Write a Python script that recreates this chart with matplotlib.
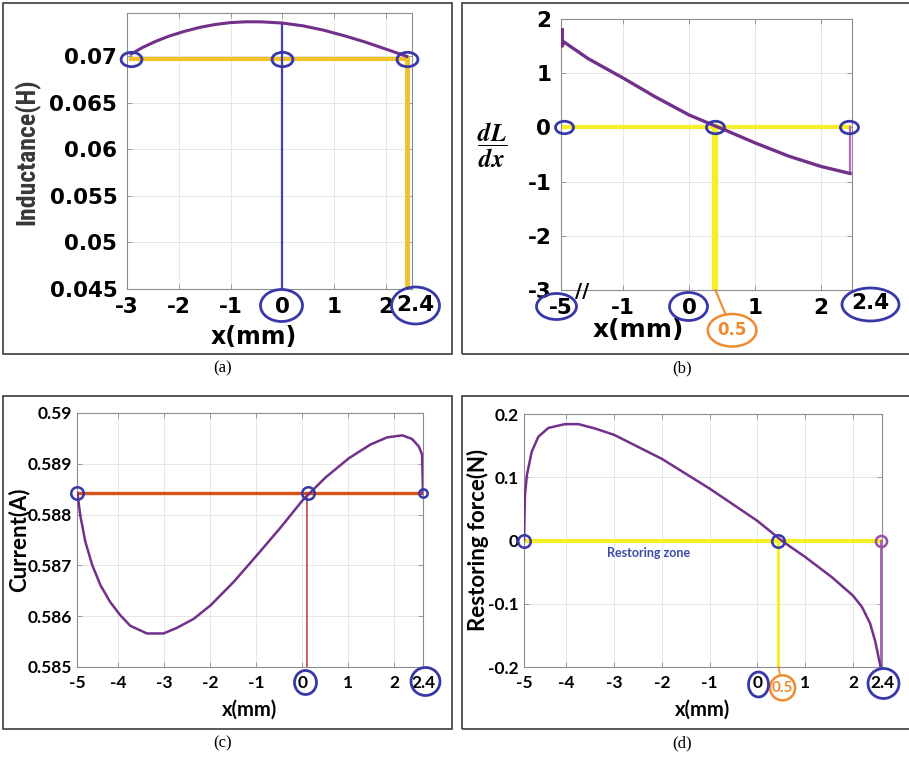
import matplotlib.pyplot as plt
from matplotlib.lines import Line2D
from matplotlib.patches import Rectangle
from matplotlib.path import Path
from matplotlib.transforms import Affine2D

plt.rcParams['mathtext.fontset'] = 'stix'

W, H = 909, 758

# (a) inductance vs displacement
a_x = [-2.92, -2.7, -2.45, -2.2, -1.9, -1.6, -1.3, -1.0, -0.7, -0.4, 0.0,
       0.4, 0.8, 1.2, 1.6, 2.0, 2.4]
a_L = [0.0702, 0.0709, 0.07155, 0.0721, 0.07262, 0.07305, 0.07337, 0.07357,
       0.07366, 0.07365, 0.07352, 0.07322, 0.07275, 0.07215, 0.07148, 0.07072,
       0.06995]
a_level = 0.0697
a_marks = [-2.92, 0.0, 2.4]

# (b) dL/dx (left part of the axis is broken, "-5" sits at the left edge)
b_x = [-1.92, -1.92, -1.9, -1.53, -0.99, -0.52, 0.0, 0.39, 0.55, 0.99, 1.51,
       2.0, 2.44]
b_d = [1.80, 1.50, 1.58, 1.27, 0.905, 0.57, 0.23, 0.03, -0.05, -0.28, -0.53,
       -0.72, -0.85]
b_marks = [-1.9, 0.4, 2.42]
b_cross = 0.4

# (c) current
c_x = [-4.89, -4.83, -4.72, -4.57, -4.39, -4.18, -3.96, -3.74, -3.38, -3.02,
       -2.73, -2.36, -1.99, -1.49, -0.99, -0.48, 0.01, 0.5, 1.01, 1.48, 1.84,
       2.17, 2.38, 2.53, 2.6, 2.62]
c_i = [0.58842, 0.58799, 0.58747, 0.58701, 0.58661, 0.58628, 0.58602, 0.58581,
       0.58566, 0.58566, 0.58577, 0.58595, 0.58622, 0.58668, 0.5872, 0.58774,
       0.58829, 0.58873, 0.58911, 0.58938, 0.58952, 0.58956, 0.58949, 0.58934,
       0.58918, 0.58842]
c_level = 0.58842
c_marks = [-4.9, 0.13, 2.61]
c_cross = 0.1

# (d) restoring force
d_x = [-4.89, -4.87, -4.83, -4.73, -4.59, -4.38, -4.03, -3.75, -3.4, -3.0,
       -2.0, -1.0, 0.0, 0.54, 1.0, 1.56, 2.0, 2.19, 2.36, 2.47, 2.58]
d_f = [0.0005, 0.072, 0.103, 0.14, 0.164, 0.178, 0.184, 0.184, 0.177, 0.167,
       0.129, 0.082, 0.031, -0.002, -0.026, -0.058, -0.087, -0.105, -0.131,
       -0.16, -0.2]
d_marks = [-4.89, 0.44, 2.58]
d_cross = 0.44

purple = '#72308a'
ring_blue = '#3838a8'
orange = '#f08a30'

fig = plt.figure(figsize=(W / 100, H / 100), dpi=100)


def px_axes(l, t, r, b):
    return fig.add_axes([l / W, 1 - b / H, (r - l) / W, (b - t) / H])


def dress(ax, xt, xl, yt, yl, font, size, xpad, ypad):
    kw = dict(fontfamily=font, fontweight='bold', fontsize=size)
    ax.set_xticks(xt, xl, **kw)
    ax.set_yticks(yt, yl, **kw)
    ax.tick_params(direction='in', top=True, right=True, length=3.5, width=0.6,
                   colors='#8c8c8c', labelcolor='black')
    ax.tick_params(axis='x', pad=xpad)
    ax.tick_params(axis='y', pad=ypad)
    ax.grid(True, color='#e6e6e6', lw=0.7)
    ax.set_axisbelow(True)
    for s in ax.spines.values():
        s.set_edgecolor('#8c8c8c')
        s.set_linewidth(0.8)


def ellipse(w, h):
    return Path.unit_circle().transformed(Affine2D().scale(w, h))


def ring_px(cx, cy, w, h, color=ring_blue, lw=2):
    # hand-drawn ring around a tick label, placed in figure pixels
    fig.add_artist(Line2D([cx / W], [1 - cy / H], transform=fig.transFigure,
                          ls='none', marker=ellipse(w, h), ms=max(w, h) * 0.72,
                          mfc='none', mec=color, mew=lw))


# panel frames and captions
for l, t, r, b in [(3, 3, 452, 354), (462, 3, 912, 354),
                   (3, 396, 452, 729), (462, 396, 912, 729)]:
    fig.add_artist(Rectangle((l / W, 1 - b / H), (r - l) / W, (b - t) / H,
                             transform=fig.transFigure, fill=False,
                             ec='#3c3c3c', lw=1.2))
for cx, cy, cap in [(223, 368, '(a)'), (682, 368, '(b)'),
                    (223, 743, '(c)'), (682, 743, '(d)')]:
    fig.text(cx / W, 1 - cy / H, cap, ha='center', va='center',
             family='Liberation Serif', size=12)

# ---------------- (a)
ax = px_axes(127, 13, 412, 289)
ax.set_xlim(-3, 2.5)
ax.set_ylim(0.045, 0.0746)
dress(ax, [-3, -2, -1, 0, 1, 2], ['-3', '-2', '-1', '0', '1', '2'],
      [0.045, 0.05, 0.055, 0.06, 0.065, 0.07],
      ['0.045', '0.05', '0.055', '0.06', '0.065', '0.07'],
      'DejaVu Sans', 15.5, 6, 7)
ax.plot(a_x, a_L, color=purple, lw=2.2, zorder=3)
ax.plot([a_marks[0], a_marks[2]], [a_level, a_level], color='#f0c128', lw=3, zorder=2)
ax.plot([2.4, 2.4], [a_level, 0.045], color='#f0c128', lw=3.5, zorder=2)
ax.plot([0, 0], [0.045, a_L[a_x.index(0.0)]], color='#4040b4', lw=1.6, zorder=2)
ax.plot(a_marks, [a_level] * 3, ls='none', marker=ellipse(1.45, 1), ms=15,
        mfc='none', mec=ring_blue, mew=2, zorder=4, clip_on=False)
ax.text(1.01, -0.058, '2.4', transform=ax.transAxes, ha='center', va='center',
        family='DejaVu Sans', weight='bold', size=15.5)
ring_px(281, 305, 42, 32)
ring_px(415, 305, 48, 37)
ax.set_xlabel('x(mm)', family='DejaVu Sans', weight='bold', size=17, va='center')
ax.xaxis.set_label_coords(0.446, -0.174)
ax.set_ylabel('Inductance(H)',
              family=['Roboto Condensed', 'Open Sans Condensed', 'Liberation Sans'],
              fontstretch='condensed', weight='bold', size=18.5, va='center',
              color='#383838')
ax.yaxis.set_label_coords(-0.351, 0.496)

# ---------------- (b)
ax = px_axes(561, 19, 852, 290)
ax.set_xlim(-1.94, 2.47)
ax.set_ylim(-3, 2)
dress(ax, [-1.94, -1, 0, 1, 2], ['-5', '-1', '0', '1', '2'],
      [-3, -2, -1, 0, 1, 2], ['-3', '-2', '-1', '0', '1', '2'],
      'DejaVu Sans', 15.5, 6, 7)
ax.plot([b_marks[0], b_marks[2]], [0, 0], color='#f5ef2a', lw=3, zorder=2)
ax.plot([b_cross, b_cross], [0, -3], color='#f5ef2a', lw=4.5, zorder=2)
ax.plot([b_x[-1], b_x[-1]], [b_d[-1], 0], color='#b06cc0', lw=1.6, zorder=2)
ax.plot(b_x, b_d, color=purple, lw=2.4, zorder=3)
ax.plot(b_marks, [0, 0, 0], ls='none', marker=ellipse(1.45, 1), ms=13,
        mfc='none', mec=ring_blue, mew=2, zorder=4, clip_on=False)
ax.text(1.062, -0.048, '2.4', transform=ax.transAxes, ha='center', va='center',
        family='DejaVu Sans', weight='bold', size=15.5)
ring_px(556, 306, 40, 26)
ring_px(688, 306, 38, 28)
ring_px(870, 304, 57, 33)
ax.text(0.072, -0.004, '//', transform=ax.transAxes, ha='center', va='center',
        family='DejaVu Sans', weight='bold', size=14)
ax.annotate('0.5', xy=(b_cross, -3), xytext=(12, -29), textcoords='offset points',
            ha='center', va='center', color=orange, family='DejaVu Sans',
            weight='bold', size=12, annotation_clip=False,
            bbox=dict(boxstyle='ellipse,pad=0.15', fc='none', ec=orange, lw=1.8),
            arrowprops=dict(arrowstyle='-', color=orange, lw=1.5,
                            shrinkA=0, shrinkB=0))
ax.set_xlabel('x(mm)', family='DejaVu Sans', weight='bold', size=18, va='center')
ax.xaxis.set_label_coords(0.265, -0.148)
ax.set_ylabel(r'$\dfrac{\mathbfit{dL}}{\mathbfit{dx}}$', size=18, rotation=0,
              va='center', ha='center')
ax.yaxis.set_label_coords(-0.237, 0.535)

# ---------------- (c)
ax = px_axes(77, 413, 423, 667)
ax.set_xlim(-4.9, 2.62)
ax.set_ylim(0.585, 0.59)
dress(ax, [-4.9, -4, -3, -2, -1, 0, 1, 2, 2.62],
      ['-5', '-4', '-3', '-2', '-1', '0', '1', '2', '2.4'],
      [0.585, 0.586, 0.587, 0.588, 0.589, 0.59],
      ['0.585', '0.586', '0.587', '0.588', '0.589', '0.59'],
      'Lato', 12.5, 6, 3.6)
ax.plot([c_x[0], c_x[-1]], [c_level, c_level], color='#d95319', lw=2.4, zorder=2)
ax.plot([c_cross, c_cross], [c_level, 0.585], color='#c0392b', lw=1.1, zorder=2)
ax.plot(c_x, c_i, color=purple, lw=1.8, zorder=3)
for xm, s in zip(c_marks, [9, 9, 6]):
    ax.plot([xm], [c_level], ls='none', marker='o', ms=s, mfc='none',
            mec=ring_blue, mew=1.8, zorder=4, clip_on=False)
ring_px(305, 682, 22, 24)
ring_px(425, 681, 29, 28)
ax.set_xlabel('x(mm)', family='Lato', weight='bold', size=14.5, va='center')
ax.xaxis.set_label_coords(0.5, -0.169)
ax.set_ylabel('Current(A)', family='Lato', weight='bold', size=16, va='center')
ax.yaxis.set_label_coords(-0.17, 0.5)

# ---------------- (d)
ax = px_axes(524, 414, 882, 667)
ax.set_xlim(-4.89, 2.61)
ax.set_ylim(-0.2, 0.2)
dress(ax, [-4.89, -4, -3, -2, -1, 0, 1, 2, 2.61],
      ['-5', '-4', '-3', '-2', '-1', '0', '1', '2', '2.4'],
      [-0.2, -0.1, 0, 0.1, 0.2], ['-0.2', '-0.1', '0', '0.1', '0.2'],
      'Lato', 12.5, 6, 4)
ax.plot([d_marks[0], d_marks[2]], [0, 0], color='#f5ef2a', lw=3, zorder=2)
ax.plot([d_cross, d_cross], [0, -0.2], color='#f5ef2a', lw=2.2, zorder=2)
ax.plot([d_x[-1], d_x[-1]], [d_f[-1], 0], color='#a55bb5', lw=2, zorder=2)
ax.plot(d_x, d_f, color=purple, lw=1.8, zorder=3)
ax.plot(d_marks[:2], [0, 0], ls='none', marker='o', ms=9, mfc='none',
        mec=ring_blue, mew=1.8, zorder=4, clip_on=False)
ax.plot(d_marks[2:], [0], ls='none', marker='o', ms=8, mfc='none',
        mec='#9b4fa8', mew=1.8, zorder=4, clip_on=False)
ax.text(-2.28, -0.02, 'Restoring zone', ha='center', va='center',
        color='#3a4aa8', family='Lato', weight='bold', size=9)
ring_px(758, 684, 20, 25)
ring_px(883, 683, 31, 30)
ax.annotate('0.5', xy=(d_cross, -0.2), xytext=(3, -15), textcoords='offset points',
            ha='center', va='center', color=orange, family='Lato', weight='bold',
            size=11, annotation_clip=False,
            bbox=dict(boxstyle='circle,pad=0.12', fc='none', ec=orange, lw=1.8),
            arrowprops=dict(arrowstyle='-', color=orange, lw=1.2,
                            shrinkA=0, shrinkB=0))
ax.set_xlabel('x(mm)', family='Lato', weight='bold', size=14.5, va='center')
ax.xaxis.set_label_coords(0.5, -0.17)
ax.set_ylabel('Restoring force(N)', family='Lato', weight='bold', size=16,
              va='center')
ax.yaxis.set_label_coords(-0.128, 0.502)

fig.savefig('out.png', dpi=100)
